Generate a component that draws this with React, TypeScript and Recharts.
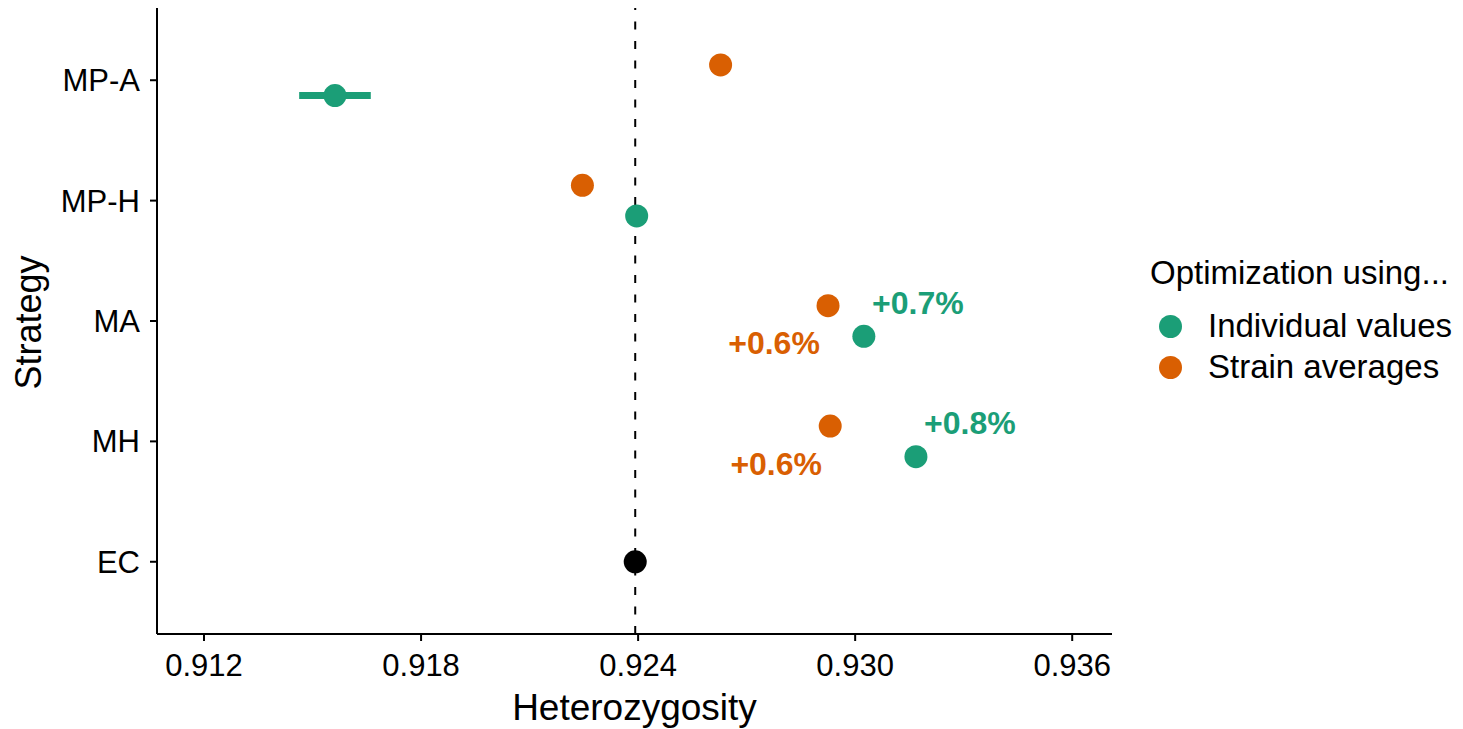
import { ScatterChart, Scatter, XAxis, YAxis, ReferenceLine, ErrorBar, Legend } from "recharts"

const FONT = "'Liberation Sans', Arial, Helvetica, sans-serif"
const GREEN = "#1B9E77"
const ORANGE = "#D95F02"

// categories, bottom to top
const STRATEGIES = ["EC", "MH", "MA", "MP-H", "MP-A"]
const OPTIMIZED = ["MH", "MA", "MP-H", "MP-A"]

// heterozygosity per optimized strategy
const INDIVIDUAL_VALUES = [0.93168, 0.93024, 0.92396, 0.91562]
const INDIVIDUAL_LOW = [0.93168, 0.93024, 0.92396, 0.91463]
const INDIVIDUAL_HIGH = [0.93168, 0.93024, 0.92396, 0.91661]
const STRAIN_AVERAGES = [0.92931, 0.92925, 0.92246, 0.92628]

// gain over EC
const INDIVIDUAL_GAIN = ["+0.8%", "+0.7%", "", ""]
const STRAIN_GAIN = ["+0.6%", "+0.6%", "", ""]

const EC_VALUE = 0.92392
const X_TICKS = [0.912, 0.918, 0.924, 0.93, 0.936]

const DODGE = 0.127

const rowOf = (s: string) => STRATEGIES.indexOf(s) + 1

const individualData = OPTIMIZED.map((s, i) => ({
  x: INDIVIDUAL_VALUES[i],
  y: rowOf(s) - DODGE,
  err: [INDIVIDUAL_VALUES[i] - INDIVIDUAL_LOW[i], INDIVIDUAL_HIGH[i] - INDIVIDUAL_VALUES[i]],
  gain: INDIVIDUAL_GAIN[i],
}))

const strainData = OPTIMIZED.map((s, i) => ({
  x: STRAIN_AVERAGES[i],
  y: rowOf(s) + DODGE,
  gain: STRAIN_GAIN[i],
}))

const ecData = [{ x: EC_VALUE, y: rowOf("EC") }]

function makeDot(color: string, dx: number, dy: number) {
  return (props: any) => {
    const { cx, cy, payload } = props
    return (
      <g>
        <circle cx={cx} cy={cy} r={11.5} fill={color} />
        {payload?.gain ? (
          <text
            x={cx + dx}
            y={cy + dy}
            textAnchor="middle"
            dominantBaseline="central"
            fill={color}
            fontFamily={FONT}
            fontWeight="bold"
            fontSize={32}
          >
            {payload.gain}
          </text>
        ) : null}
      </g>
    )
  }
}

function LegendBox() {
  const item = (color: string, label: string) => (
    <div style={{ display: "flex", alignItems: "center", height: 41 }}>
      <div style={{ width: 23, height: 23, borderRadius: "50%", background: color, marginLeft: 8.5 }} />
      <span style={{ marginLeft: 26.5, fontSize: 33, color: "#000", whiteSpace: "nowrap" }}>{label}</span>
    </div>
  )
  return (
    <div style={{ fontFamily: FONT }}>
      <div style={{ fontSize: 33, lineHeight: "40px", height: 40, color: "#000", whiteSpace: "nowrap" }}>
        Optimization using...
      </div>
      <div style={{ height: 12.5 }} />
      {item(GREEN, "Individual values")}
      {item(ORANGE, "Strain averages")}
    </div>
  )
}

function YTitle(props: any) {
  const vb = props.viewBox || { x: 0, y: 8, width: 157, height: 626 }
  const x = vb.x + 41
  const y = vb.y + vb.height / 2 + 1.5
  return (
    <text
      x={x}
      y={y}
      transform={`rotate(-90 ${x} ${y})`}
      textAnchor="middle"
      fontFamily={FONT}
      fontSize={36}
      fill="#000"
    >
      Strategy
    </text>
  )
}

export default function App() {
  const axisStroke = { stroke: "#000", strokeWidth: 2 }
  return (
    <div style={{ position: "absolute", left: 0, top: 0, background: "#fff" }}>
      <ScatterChart width={1463} height={729} margin={{ top: 8, right: 351, bottom: 0, left: 0 }}>
        <XAxis
          type="number"
          dataKey="x"
          domain={[0.9107, 0.9371]}
          ticks={X_TICKS}
          allowDataOverflow
          tickFormatter={(v: number) => v.toFixed(3)}
          height={95}
          tickSize={7}
          tickMargin={13}
          axisLine={axisStroke}
          tickLine={axisStroke}
          tick={{ fontSize: 31, fill: "#000", fontFamily: FONT }}
          label={{ value: "Heterozygosity", position: "insideBottom", offset: 9, fontSize: 37, fill: "#000", fontFamily: FONT }}
        />
        <YAxis
          type="number"
          dataKey="y"
          domain={[0.4, 5.6]}
          ticks={[1, 2, 3, 4, 5]}
          allowDataOverflow
          tickFormatter={(v: number) => STRATEGIES[v - 1] ?? ""}
          width={157}
          tickSize={7}
          tickMargin={10}
          axisLine={axisStroke}
          tickLine={axisStroke}
          tick={{ fontSize: 31, fill: "#000", fontFamily: FONT }}
          label={{ position: "insideLeft", content: YTitle }}
        />
        <ReferenceLine x={EC_VALUE} stroke="#000" strokeWidth={2} strokeDasharray="8 11.5" />
        <Scatter data={ecData} fill="#000" shape={makeDot("#000", 0, 0)} isAnimationActive={false} legendType="none" />
        <Scatter data={strainData} fill={ORANGE} shape={makeDot(ORANGE, -54, 37.5)} isAnimationActive={false} />
        <Scatter data={individualData} fill={GREEN} shape={makeDot(GREEN, 54, -33.5)} isAnimationActive={false}>
          <ErrorBar dataKey="err" direction="x" width={0} stroke={GREEN} strokeWidth={7} />
        </Scatter>
        <Legend
          layout="vertical"
          align="center"
          verticalAlign="middle"
          content={() => <LegendBox />}
          wrapperStyle={{ left: 1150, top: 253, width: 313, height: 140 }}
        />
      </ScatterChart>
    </div>
  )
}
